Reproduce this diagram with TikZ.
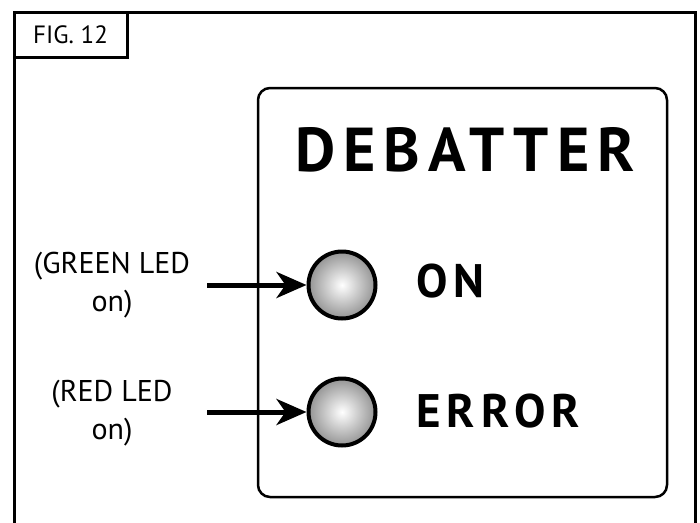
\documentclass[tikz,border=0pt]{standalone}
\usepackage{fontspec}
\setmainfont{PT Sans}
\newfontfamily\panelfont{PT Sans}[LetterSpace=13]
\usetikzlibrary{arrows.meta,positioning}
\tikzset{
    framestyle/.style={line width=3pt, line join=miter},
    figtag/.style={draw, line width=3pt, minimum width=113pt, minimum height=45pt, inner sep=0pt, font=\fontsize{25}{28}\selectfont},
    panelbox/.style={draw, line width=2.5pt, rounded corners=12pt},
    ledlamp/.style={circle, draw, line width=4pt, minimum size=67pt, inner sep=0pt, shading=radial, inner color=white, outer color=black!42},
    paneltitle/.style={anchor=base, inner sep=0pt, font=\panelfont\bfseries\fontsize{62}{64}\selectfont},
    ledtext/.style={anchor=base west, inner sep=0pt, font=\panelfont\bfseries\fontsize{47}{50}\selectfont},
    notelabel/.style={align=center, inner sep=0pt, font=\fontsize{30}{38}\selectfont},
    pointer/.style={-{Stealth[length=30pt, width=26pt, inset=9pt]}, line width=5pt}
}
\begin{document}
\begin{tikzpicture}[x=1pt, y=-1pt]
    \useasboundingbox (0,0) rectangle (700,522);
    % outer frame, cut at the bottom
    \draw[framestyle] (14,530) -- (14,12.5) -- (695,12.5) -- (695,530);
    \node[figtag, anchor=north west] (fig) at (12.5,11) {FIG. 12};

    % panel
    \draw[panelbox] (258,88) rectangle (667,497);
    \node[paneltitle] (title) at (465,171) {DEBATTER};

    \node[ledlamp] (ledon) at (342,285) {};
    \node[ledlamp] (lederr) at (342,412) {};
    \node[ledtext] (txton) at (416,297) {ON};
    \node[ledtext] (txterr) at (416,427) {ERROR};

    % notes and pointers
    \node[notelabel] (greennote) at (112,285) {(GREEN LED\\on)};
    \node[notelabel] (rednote) at (112,413) {(RED LED\\on)};
    \coordinate (greenstart) at (207,285);
    \coordinate (redstart) at (207,412);
    \draw[pointer] (greenstart) -- (ledon.west);
    \draw[pointer] (redstart) -- (lederr.west);
\end{tikzpicture}
\end{document}
